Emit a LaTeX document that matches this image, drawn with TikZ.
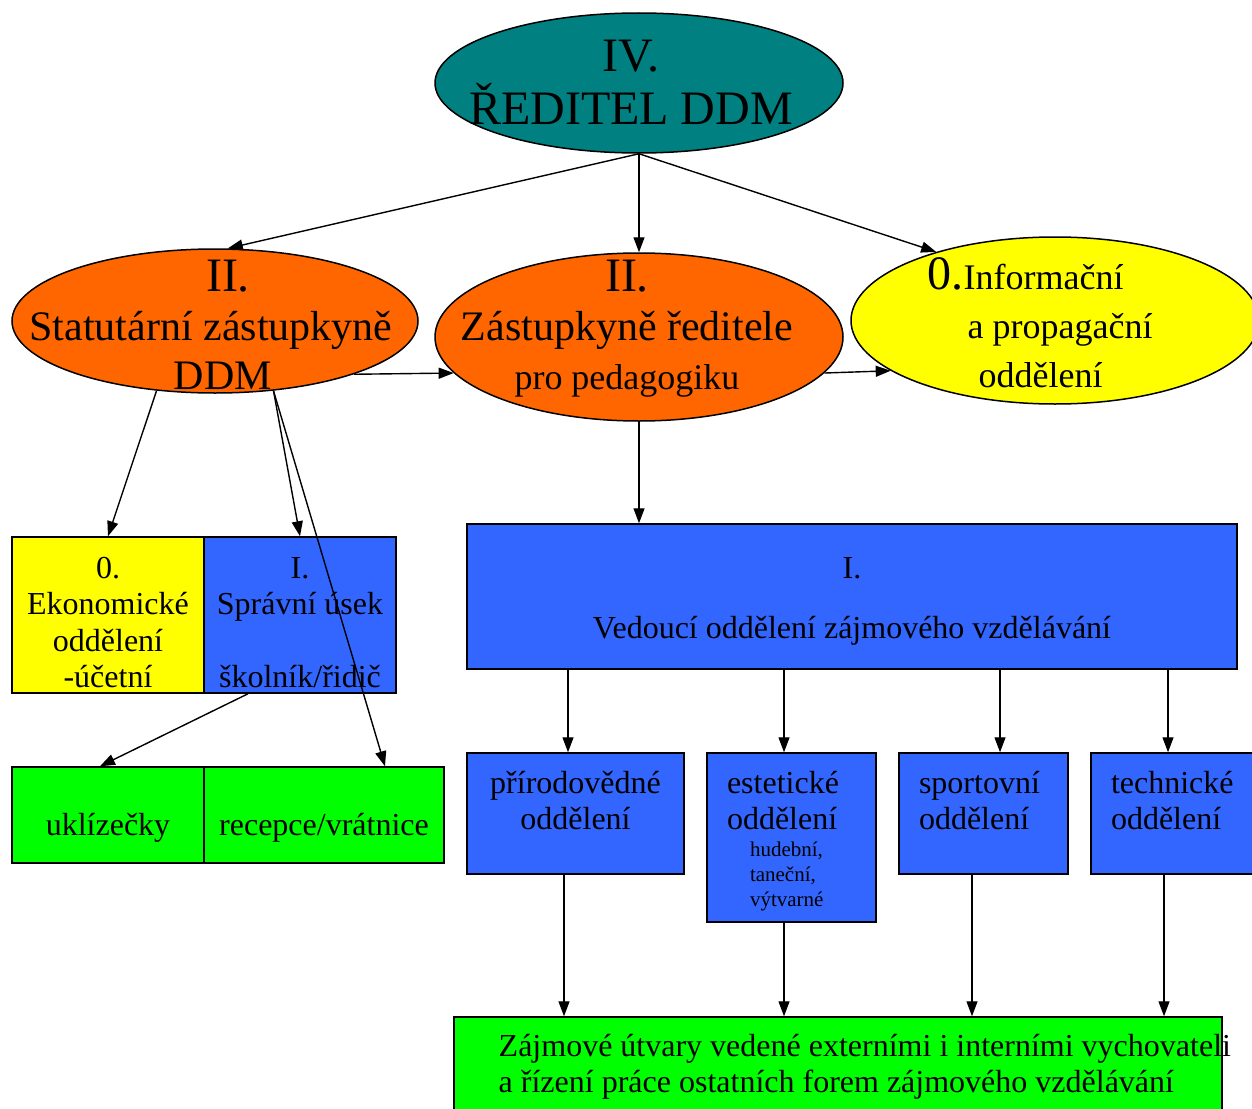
\documentclass[tikz,border=0pt]{standalone}
\usepackage{fontspec}
\setmainfont{Liberation Serif}
\usetikzlibrary{arrows.meta,shapes.geometric}

\definecolor{dirteal}{RGB}{0,128,128}
\definecolor{zastorange}{RGB}{255,102,0}
\definecolor{oddyellow}{RGB}{255,255,0}
\definecolor{oddblue}{RGB}{51,102,255}
\definecolor{utvgreen}{RGB}{0,255,0}

\newcommand{\fsTitle}{\fontsize{48}{53}\selectfont}
\newcommand{\fsHead}{\fontsize{42}{49}\selectfont}
\newcommand{\fsSub}{\fontsize{36}{49}\selectfont}
\newcommand{\fsBox}{\fontsize{32}{36.5}\selectfont}
\newcommand{\fsTiny}{\fontsize{21}{25}\selectfont}

\tikzset{
  ell/.style={ellipse, draw, line width=1.5pt, inner sep=0pt, minimum width=408pt},
  elltext/.style={inner sep=0pt, align=center},
  orgbox/.style={rectangle, draw, line width=1.5pt, inner sep=0pt, font=\fsBox, align=center},
  deptbox/.style={orgbox, fill=oddblue, minimum height=121pt},
}

\begin{document}
\begin{tikzpicture}[x=1pt, y=-1pt, >={Triangle[length=15pt,width=11pt]}, line width=1.4pt]
  \useasboundingbox (0,0) rectangle (1252,1108);
  \clip (0,0) rectangle (1252,1108);

  % Define the positions of the ellipses
  \node[ell, fill=dirteal, minimum height=140pt] (dir) at (639,83) {};
  \node[ell, fill=zastorange, minimum width=406pt, minimum height=144pt] (stat) at (215,321) {};
  \node[ell, fill=zastorange, minimum height=168pt] (zast) at (639,337) {};
  \node[ell, fill=oddyellow, minimum height=167pt] (info) at (1055,320.5) {};

  \node[elltext, font=\fsTitle] (dirtext) at (631,82) {IV.\\ŘEDITEL DDM};
  \node[elltext, font=\fsHead] (stattext) at (211,325) {\hspace*{34pt}{\fsTitle II.}\\Statutární zástupkyně\\\hspace*{24pt}DDM};
  \node[elltext, font=\fsHead] (zasttext) at (627,329) {{\fsTitle II.}\\Zástupkyně ředitele\\{\fsSub pro pedagogiku}};
  \node[elltext, font=\fsSub, align=left, anchor=west] (infotext) at (927,323) {{\fsTitle 0.}Informační\\\hspace*{40pt}a propagační\\\hspace*{51pt}oddělení};

  % Define the positions of the boxes
  \node[orgbox, fill=oddyellow, minimum width=192pt, minimum height=156pt] (ekon) at (108,615) {\rule{0pt}{36pt}0.\\Ekonomické\\oddělení\\-účetní};
  \node[orgbox, fill=oddblue, minimum width=192pt, minimum height=156pt] (sprav) at (300,615) {\rule{0pt}{36pt}I.\\Správní úsek\\[36.5pt]školník/řidič};
  \node[orgbox, fill=utvgreen, minimum width=192pt, minimum height=96pt, text height=40pt, text depth=0pt] (uklid) at (108,815) {uklízečky};
  \node[orgbox, fill=utvgreen, minimum width=240pt, minimum height=96pt, text height=40pt, text depth=0pt] (recep) at (324,815) {recepce/vrátnice};

  \node[orgbox, fill=oddblue, minimum width=770pt, minimum height=145pt] (ved) at (852,596.5) {\rule{0pt}{31pt}I.\\[23.5pt]Vedoucí oddělení zájmového vzdělávání};

  \node[deptbox, minimum width=217pt, text width=177pt] (prir) at (575.5,813.5) {přírodovědné\\oddělení\rule[-26pt]{0pt}{0pt}};
  \node[deptbox, minimum width=169pt, minimum height=169pt, text width=129pt, align=left] (estet) at (791.5,837.5) {\rule{0pt}{30pt}estetické\\oddělení\\[-9.5pt]\hspace*{23pt}{\fsTiny hudební,}\\[-11.5pt]\hspace*{23pt}{\fsTiny taneční,}\\[-11.5pt]\hspace*{23pt}{\fsTiny výtvarné}};
  \node[deptbox, minimum width=169pt, text width=129pt, align=left] (sport) at (983.5,813.5) {sportovní\\oddělení\rule[-26pt]{0pt}{0pt}};
  \node[deptbox, minimum width=169pt, text width=129pt, align=left] (tech) at (1175.5,813.5) {technické\\oddělení\rule[-26pt]{0pt}{0pt}};

  \node[orgbox, fill=utvgreen, minimum width=768pt, minimum height=95pt] (zajm) at (838,1064.5) {};
  \node[elltext, font=\fsBox, align=left, anchor=west] (zajmtext) at (498,1067) {Zájmové útvary vedené externími i interními vychovateli\\a řízení práce ostatních forem zájmového vzdělávání};

  % Draw the edges
  \draw[->] (dir.south) -- (stat.80);
  \draw[->] (dir.south) -- (zast.north);
  \draw[->] (dir.south) -- (info.150);
  \draw[->] (stat.339) -- (zast.191);
  \draw[->] (zast.349) -- (info.197);

  \draw[->] (stat.230) -- (ekon.north);
  \draw[->] (stat.310) -- (sprav.north);
  \draw[->] (stat.310) -- ([xshift=61pt]recep.north);
  \draw[->] ([xshift=-52pt]sprav.south) -- ([xshift=-8pt]uklid.north);

  \draw[->] (zast.south) -- (zast.south |- ved.north);
  \foreach \d/\x in {prir/568, estet/784, sport/1000, tech/1168}
    \draw[->] (ved.south -| \x,0) -- (\d.north -| \x,0);
  \foreach \d/\x in {prir/564, estet/784, sport/972, tech/1164}
    \draw[->] (\d.south -| \x,0) -- (zajm.north -| \x,0);
\end{tikzpicture}
\end{document}
